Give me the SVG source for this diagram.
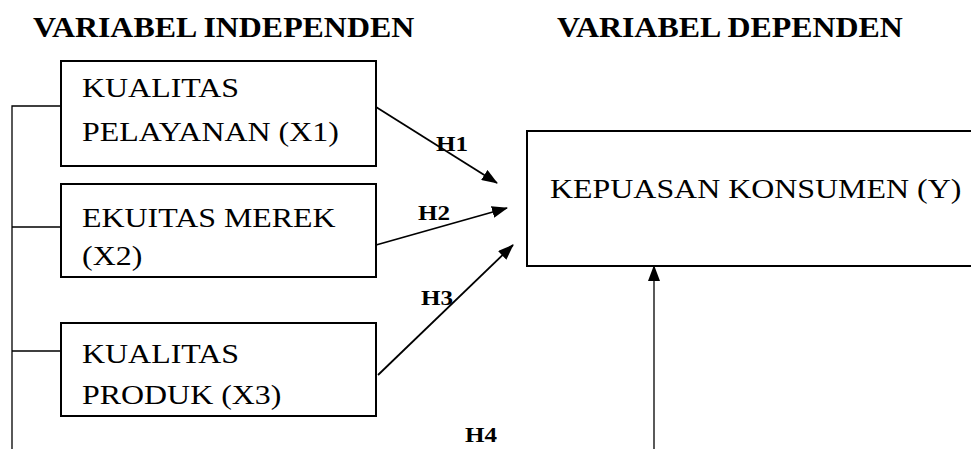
<svg xmlns="http://www.w3.org/2000/svg" width="971" height="449" viewBox="0 0 971 449">
<defs>
<marker id="ah" markerWidth="16" markerHeight="12" refX="15" refY="6" orient="auto" markerUnits="userSpaceOnUse">
<path d="M0,0 L16,6 L0,12 Z" fill="#000"/>
</marker>
<style>
.box{fill:#fff;stroke:#000;stroke-width:2}
.ln{fill:none;stroke:#000;stroke-width:1.3}
.arr{fill:none;stroke:#000;stroke-width:1.8}
.t{font-family:"Liberation Serif","Times New Roman",serif;font-size:28px;fill:#000}
.h{font-family:"Liberation Serif","Times New Roman",serif;font-size:22px;font-weight:bold;fill:#000}
.title{font-family:"Liberation Serif","Times New Roman",serif;font-size:29px;font-weight:bold;fill:#000}
</style>
</defs>
<rect width="971" height="449" fill="#fff"/>
<text class="title" transform="translate(33,37) scale(1.1,1)">VARIABEL INDEPENDEN</text>
<text class="title" transform="translate(557,37) scale(1.1,1)">VARIABEL DEPENDEN</text>
<g id="connectors">
<path class="ln" d="M12,449 V106 H61 M12,227 H61 M12,351 H61"/>
<line class="arr" x1="376" y1="107" x2="497" y2="183" marker-end="url(#ah)"/>
<line class="arr" x1="376" y1="245" x2="507" y2="208" marker-end="url(#ah)"/>
<line class="arr" x1="378" y1="375" x2="513" y2="245" marker-end="url(#ah)"/>
<line class="ln" x1="654" y1="449" x2="654" y2="266" marker-end="url(#ah)"/>
<text class="h" transform="translate(436,151) scale(1.14,1)">H1</text>
<text class="h" transform="translate(418,220) scale(1.14,1)">H2</text>
<text class="h" transform="translate(421,305) scale(1.14,1)">H3</text>
<text class="h" transform="translate(465,442) scale(1.14,1)">H4</text>
</g>
<g id="x1">
<rect class="box" x="61" y="61" width="315" height="105"/>
<text class="t" transform="translate(82,97) scale(1.14,1)">KUALITAS</text>
<text class="t" transform="translate(82,141) scale(1.14,1)">PELAYANAN (X1)</text>
</g>
<g id="x2">
<rect class="box" x="61" y="184" width="315" height="93"/>
<text class="t" transform="translate(82,227) scale(1.14,1)">EKUITAS MEREK</text>
<text class="t" transform="translate(82,265) scale(1.14,1)">(X2)</text>
</g>
<g id="x3">
<rect class="box" x="61" y="323" width="315" height="93"/>
<text class="t" transform="translate(82,363) scale(1.14,1)">KUALITAS</text>
<text class="t" transform="translate(82,404) scale(1.14,1)">PRODUK (X3)</text>
</g>
<g id="y">
<rect class="box" x="527" y="131" width="460" height="135"/>
<text class="t" transform="translate(550,198) scale(1.14,1)">KEPUASAN KONSUMEN (Y)</text>
</g>
</svg>
